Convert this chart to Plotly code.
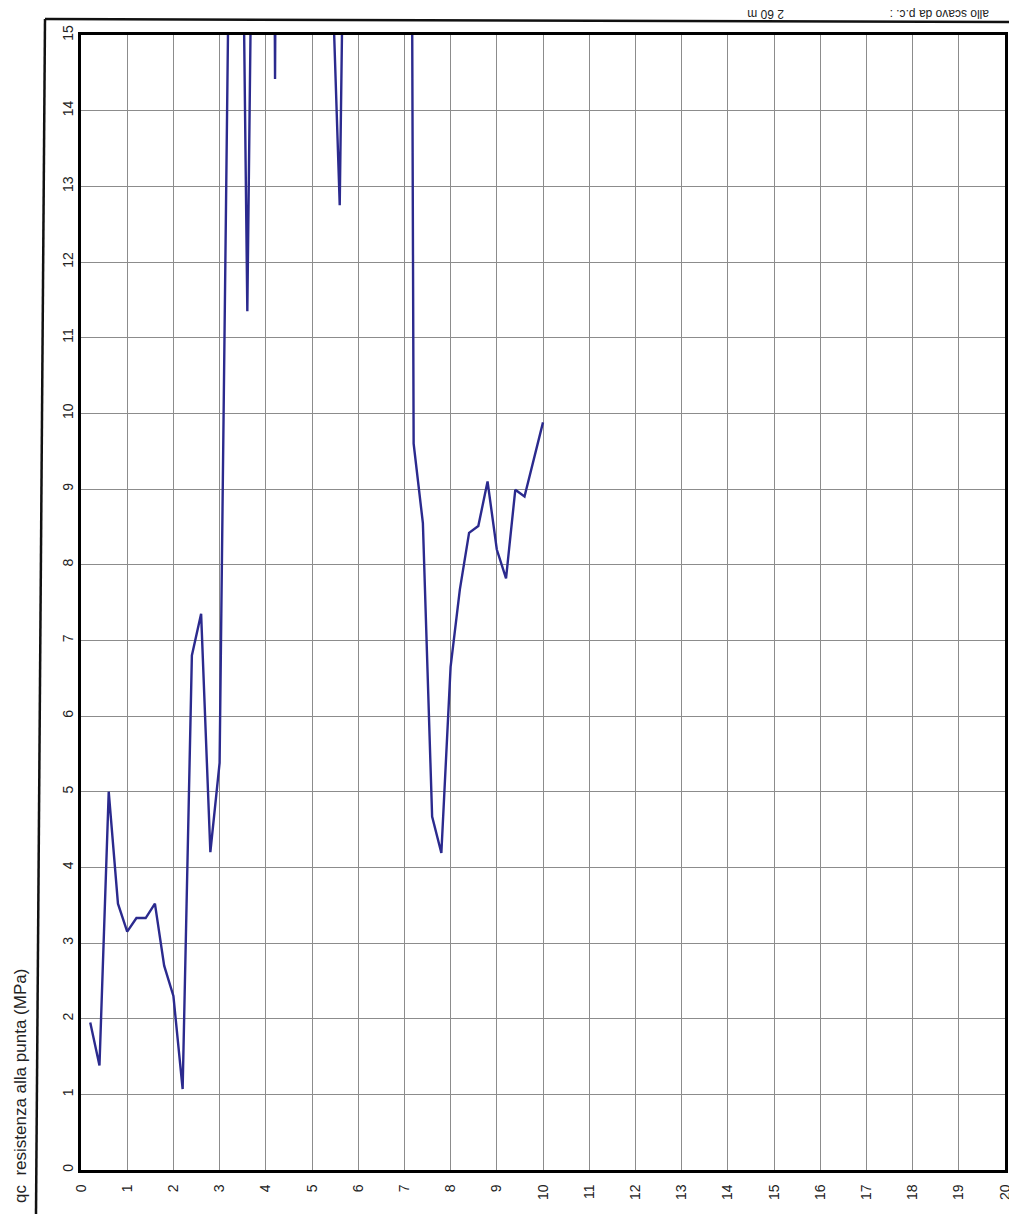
import plotly.graph_objects as go

# Depth (m) along the horizontal axis, qc (MPa) on the vertical axis
depth = [0.2, 0.4, 0.6, 0.8, 1.0, 1.2, 1.4, 1.6, 1.8, 2.0,
         2.2, 2.4, 2.6, 2.8, 3.0, 3.2, 3.4, 3.6, 3.8, 4.0,
         4.2, 4.4, 4.6, 4.8, 5.0, 5.2, 5.4, 5.6, 5.8, 6.0,
         6.2, 6.4, 6.6, 6.8, 7.0, 7.2, 7.4, 7.6, 7.8, 8.0,
         8.2, 8.4, 8.6, 8.8, 9.0, 9.2, 9.4, 9.6, 9.8, 10.0]
qc = [1.95, 1.38, 5.0, 3.52, 3.15, 3.33, 3.33, 3.52, 2.70, 2.30,
      1.07, 6.80, 7.35, 4.20, 5.38, 16.0, 22.0, 11.35, 22.0, 40.0,
      14.42, 40.0, 30.0, 28.0, 26.0, 24.0, 16.5, 12.75, 22.0, 30.0,
      32.0, 30.0, 34.0, 38.0, 45.0, 9.60, 8.55, 4.67, 4.19, 6.65,
      7.67, 8.42, 8.51, 9.10, 8.20, 7.82, 8.99, 8.90, 9.38, 9.88]

x_ticks = list(range(0, 21))
y_ticks = list(range(0, 16))

OFF = 8  # page body margin
W, H = 1017 - OFF, 1214 - OFF
L, R, T, B = 81, 1005, 35, 1170  # plot area in page pixels


def px(x):
    return (x - L) / (R - L)


def py(y):
    return (B - y) / (B - T)


fig = go.Figure()
fig.add_trace(go.Scatter(
    x=depth, y=qc, mode="lines",
    line=dict(color="#2B2A8E", width=2.4),
    showlegend=False,
))

FAM = "Liberation Sans, Arial, sans-serif"
font = dict(family=FAM, size=14, color="#222")

fig.update_layout(
    width=W, height=H,
    margin=dict(l=L - OFF, r=W + OFF - R, t=T - OFF, b=H + OFF - B),
    paper_bgcolor="white", plot_bgcolor="white",
    font=font,
    xaxis=dict(
        range=[0, 20], tickvals=x_ticks, ticktext=[str(v) for v in x_ticks],
        tickangle=-90, showgrid=True, gridcolor="#8c8c8c", gridwidth=1,
        zeroline=False, showline=True, linecolor="black", linewidth=2.5,
        mirror=True, ticks="outside", ticklen=6, tickcolor="white",
        tickfont=font, automargin=False,
    ),
    yaxis=dict(
        range=[0, 15], tickvals=y_ticks, ticktext=[str(v) for v in y_ticks],
        tickangle=-90, showgrid=True, gridcolor="#8c8c8c", gridwidth=1,
        zeroline=False, showline=True, linecolor="black", linewidth=2.5,
        mirror=True, ticks="", tickfont=font, automargin=False,
    ),
)

# outer frame lines of the scanned sheet
fig.add_shape(type="line", xref="paper", yref="paper",
              x0=px(45), y0=py(19), x1=px(1017), y1=py(22),
              line=dict(color="#111", width=2.5))
fig.add_shape(type="line", xref="paper", yref="paper",
              x0=px(45), y0=py(19), x1=px(36), y1=py(1214),
              line=dict(color="#111", width=2.5))

# axis title
fig.add_annotation(text="qc  resistenza alla punta (MPa)", xref="paper", yref="paper",
                   x=px(20), y=py(1086), xanchor="center", yanchor="middle",
                   textangle=-90, showarrow=False,
                   font=dict(family=FAM, size=17, color="#222"))

# upside-down header fragments
fig.add_annotation(text="2 60 m", xref="paper", yref="paper",
                   x=px(766), y=py(14), xanchor="center", yanchor="middle",
                   textangle=180, showarrow=False,
                   font=dict(family=FAM, size=12, color="#222"))
fig.add_annotation(text="allo scavo da p.c. :", xref="paper", yref="paper",
                   x=px(940), y=py(14), xanchor="center", yanchor="middle",
                   textangle=180, showarrow=False,
                   font=dict(family=FAM, size=12, color="#222"))

fig.write_html("out.html")
